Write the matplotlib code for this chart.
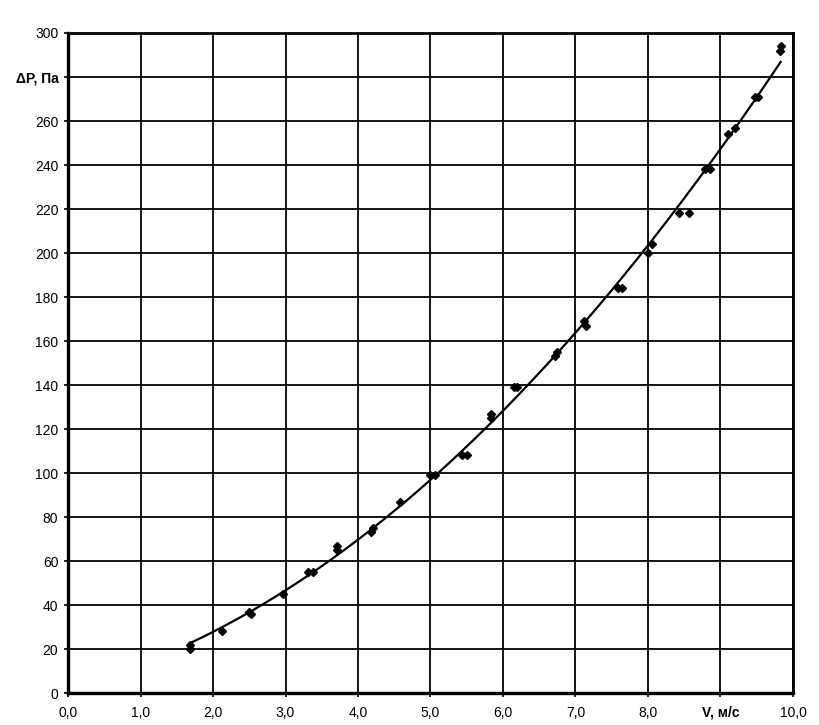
import numpy as np
import matplotlib
matplotlib.use('Agg')
import matplotlib.pyplot as plt

plt.rcParams['font.family'] = ['Liberation Sans', 'DejaVu Sans']

# measured points: velocity V, m/s and pressure drop dP, Pa
v = [1.68, 1.68, 2.12, 2.50, 2.52, 2.97, 3.31, 3.38, 3.71, 3.71, 4.18, 4.20,
     4.58, 5.00, 5.06, 5.43, 5.50, 5.83, 5.83, 6.15, 6.20, 6.72, 6.74, 7.12,
     7.14, 7.59, 7.64, 8.00, 8.06, 8.43, 8.57, 8.79, 8.86, 9.10, 9.20, 9.48,
     9.52, 9.82, 9.83]
dp = [22, 20, 28, 37, 36, 45, 55, 55, 67, 65, 73, 75,
      87, 99, 99, 108, 108, 127, 125, 139, 139, 153, 155, 169,
      167, 184, 184, 200, 204, 218, 218, 238, 238, 254, 257, 271,
      271, 292, 294]

y_ticks = [0, 20, 40, 60, 80, 100, 120, 140, 160, 180, 200, 220, 240, 260, 280, 300]
y_labels = ['0', '20', '40', '60', '80', '100', '120', '140', '160', '180', '200',
            '220', '240', '260', 'ΔP, Па', '300']
x_ticks = [0, 1, 2, 3, 4, 5, 6, 7, 8, 9, 10]
x_labels = ['0,0', '1,0', '2,0', '3,0', '4,0', '5,0', '6,0', '7,0', '8,0', 'V, м/с', '10,0']

# polynomial trend line (2nd order) like the spreadsheet one
coef = np.polyfit(v, dp, 2)
xs = np.linspace(min(v), max(v), 200)
ys = np.polyval(coef, xs)

fig = plt.figure(figsize=(8.2, 7.25), dpi=100)
ax = fig.add_axes([0.083, 0.044, 0.884, 0.9105])

ax.plot(xs, ys, color='black', linewidth=1.6, zorder=3)
ax.plot(v, dp, linestyle='none', marker='D', markersize=4.5, color='black', zorder=4)

ax.set_xlim(0, 10)
ax.set_ylim(0, 300)
ax.set_xticks(x_ticks)
ax.set_xticklabels(x_labels)
ax.set_yticks(y_ticks)
ax.set_yticklabels(y_labels)
ax.grid(True, color='black', linewidth=1.3)
ax.set_axisbelow(True)

for lab in ax.get_yticklabels():
    if lab.get_text() == 'ΔP, Па':
        lab.set_fontweight('bold')
for lab in ax.get_xticklabels():
    if lab.get_text() == 'V, м/с':
        lab.set_fontweight('bold')

ax.tick_params(axis='both', labelsize=10, length=3, width=1.2, color='black')
ax.tick_params(axis='y', pad=4)
ax.tick_params(axis='x', pad=6)
ax.spines['left'].set_linewidth(2.4)
ax.spines['bottom'].set_linewidth(2.4)
ax.spines['top'].set_linewidth(2.0)
ax.spines['right'].set_linewidth(2.0)

plt.savefig('out.png', dpi=100)
